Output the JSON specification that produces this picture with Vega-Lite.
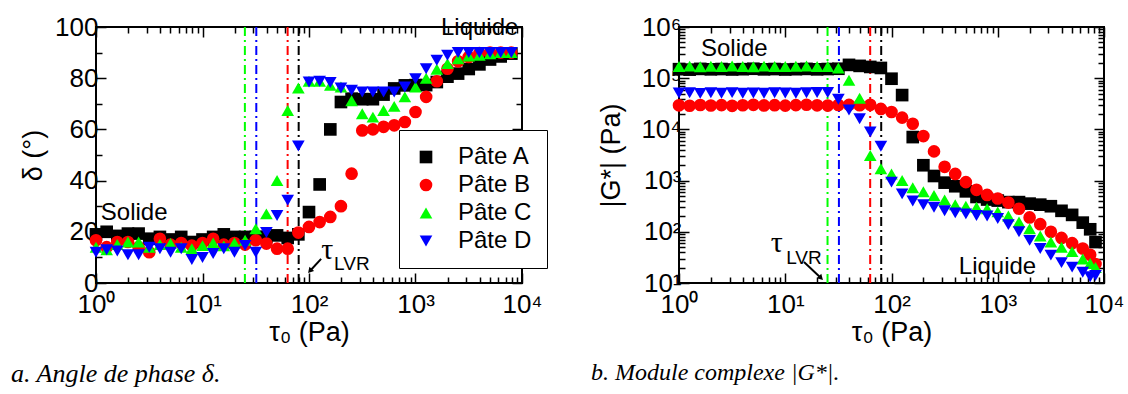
{
"$schema": "https://vega.github.io/schema/vega-lite/v6.json",
"background": "white",
"padding": {"left": 10, "top": 13, "right": 5, "bottom": 5},
"bounds": "flush",
"spacing": 157,
"resolve": {"scale": {"color": "independent", "shape": "independent"}},
"config": {
  "view": {"stroke": "black", "strokeWidth": 2},
  "font": "Liberation Sans",
  "axis": {"domain": false, "grid": false, "labelFont": "Liberation Sans", "labelFontSize": 26, "labelColor": "black", "titleFont": "Liberation Sans", "titleFontSize": 27, "titleFontWeight": "normal", "titleColor": "black", "tickColor": "black", "tickWidth": 1.5, "labelFlush": false, "labelOverlap": false, "labelPadding": 8},
  "axisBottom": {"labelPadding": 18, "titlePadding": -2}
},
"datasets": {
  "lvr": [{"t": 80, "p": "Pâte A"}, {"t": 63, "p": "Pâte B"}, {"t": 25, "p": "Pâte C"}, {"t": 32, "p": "Pâte D"}],
  "notesL": [{"label": "Solide", "t": 1.11, "d": 27.3}, {"label": "Liquide", "t": 1735, "d": 99.6}],
  "notesR": [{"label": "Solide", "t": 1.61, "g": 370000}, {"label": "Liquide", "t": 430, "g": 20.5}],
  "tauL": [{"label": "τ", "t": 130, "d": 9.4}],
  "lvrL": [{"label": "LVR", "t": 172, "d": 5.1}],
  "tauR": [{"label": "τ", "t": 7.3, "g": 40}],
  "lvrR": [{"label": "LVR", "t": 10.2, "g": 23.6}],
  "arrowL": [{"t": 102, "d": 4.7, "t2": 130, "d2": 9.4}],
  "arrowR": [{"t": 21.7, "g": 12.5, "t2": 15, "g2": 25.7}],
  "phase": [
{"t":1,"p":"Pâte A","d":19},{"t":1.259,"p":"Pâte A","d":20},{"t":1.585,"p":"Pâte A","d":18.4},{"t":1.995,"p":"Pâte A","d":19.3},{"t":2.512,"p":"Pâte A","d":19.3},{"t":3.162,"p":"Pâte A","d":17.3},{"t":3.981,"p":"Pâte A","d":18},{"t":5.012,"p":"Pâte A","d":17},{"t":6.31,"p":"Pâte A","d":18},{"t":7.943,"p":"Pâte A","d":16},{"t":10,"p":"Pâte A","d":17},{"t":12.59,"p":"Pâte A","d":18},{"t":15.85,"p":"Pâte A","d":19},{"t":19.95,"p":"Pâte A","d":18},{"t":25.12,"p":"Pâte A","d":18},{"t":31.62,"p":"Pâte A","d":18},{"t":39.81,"p":"Pâte A","d":18},{"t":50.12,"p":"Pâte A","d":18.6},{"t":63.1,"p":"Pâte A","d":17.6},{"t":79.43,"p":"Pâte A","d":19},{"t":100,"p":"Pâte A","d":27.7},{"t":125.9,"p":"Pâte A","d":38.5},{"t":158.5,"p":"Pâte A","d":60},{"t":199.5,"p":"Pâte A","d":70.7},{"t":251.2,"p":"Pâte A","d":72},{"t":316.2,"p":"Pâte A","d":71.8},{"t":398.1,"p":"Pâte A","d":71.8},{"t":501.2,"p":"Pâte A","d":73.6},{"t":631,"p":"Pâte A","d":76},{"t":794.3,"p":"Pâte A","d":77.2},{"t":1000,"p":"Pâte A","d":77.3},{"t":1259,"p":"Pâte A","d":77.3},{"t":1585,"p":"Pâte A","d":78.5},{"t":1995,"p":"Pâte A","d":80.6},{"t":2512,"p":"Pâte A","d":81.8},{"t":3162,"p":"Pâte A","d":83.6},{"t":3981,"p":"Pâte A","d":85.4},{"t":5012,"p":"Pâte A","d":87.3},{"t":6310,"p":"Pâte A","d":88.5},{"t":7943,"p":"Pâte A","d":89.6},
{"t":1,"p":"Pâte B","d":16.7},{"t":1.259,"p":"Pâte B","d":14},{"t":1.585,"p":"Pâte B","d":16},{"t":1.995,"p":"Pâte B","d":16},{"t":2.512,"p":"Pâte B","d":14},{"t":3.162,"p":"Pâte B","d":12},{"t":3.981,"p":"Pâte B","d":17.3},{"t":5.012,"p":"Pâte B","d":15},{"t":6.31,"p":"Pâte B","d":15.6},{"t":7.943,"p":"Pâte B","d":14.6},{"t":10,"p":"Pâte B","d":15.6},{"t":12.59,"p":"Pâte B","d":17.3},{"t":15.85,"p":"Pâte B","d":15},{"t":19.95,"p":"Pâte B","d":15.6},{"t":25.12,"p":"Pâte B","d":15},{"t":31.62,"p":"Pâte B","d":16.7},{"t":39.81,"p":"Pâte B","d":15.4},{"t":50.12,"p":"Pâte B","d":13.4},{"t":63.1,"p":"Pâte B","d":13.4},{"t":79.43,"p":"Pâte B","d":19.7},{"t":100,"p":"Pâte B","d":21.9},{"t":125.9,"p":"Pâte B","d":23.8},{"t":158.5,"p":"Pâte B","d":25.8},{"t":199.5,"p":"Pâte B","d":30},{"t":251.2,"p":"Pâte B","d":42.7},{"t":316.2,"p":"Pâte B","d":59.6},{"t":398.1,"p":"Pâte B","d":60},{"t":501.2,"p":"Pâte B","d":61},{"t":631,"p":"Pâte B","d":61.6},{"t":794.3,"p":"Pâte B","d":62.9},{"t":1000,"p":"Pâte B","d":66.8},{"t":1259,"p":"Pâte B","d":72.7},{"t":1585,"p":"Pâte B","d":78.8},{"t":1995,"p":"Pâte B","d":83.7},{"t":2512,"p":"Pâte B","d":86.6},{"t":3162,"p":"Pâte B","d":88.3},{"t":3981,"p":"Pâte B","d":89.8},{"t":5012,"p":"Pâte B","d":90},{"t":6310,"p":"Pâte B","d":90},{"t":7943,"p":"Pâte B","d":90},
{"t":1,"p":"Pâte C","d":14},{"t":1.259,"p":"Pâte C","d":13},{"t":1.585,"p":"Pâte C","d":15},{"t":1.995,"p":"Pâte C","d":16},{"t":2.512,"p":"Pâte C","d":16},{"t":3.162,"p":"Pâte C","d":14},{"t":3.981,"p":"Pâte C","d":15},{"t":5.012,"p":"Pâte C","d":15.4},{"t":6.31,"p":"Pâte C","d":14},{"t":7.943,"p":"Pâte C","d":13.4},{"t":10,"p":"Pâte C","d":14.6},{"t":12.59,"p":"Pâte C","d":15.6},{"t":15.85,"p":"Pâte C","d":14.5},{"t":19.95,"p":"Pâte C","d":15.6},{"t":25.12,"p":"Pâte C","d":16.7},{"t":31.62,"p":"Pâte C","d":21.2},{"t":39.81,"p":"Pâte C","d":27},{"t":50.12,"p":"Pâte C","d":40},{"t":63.1,"p":"Pâte C","d":67.4},{"t":79.43,"p":"Pâte C","d":76.2},{"t":100,"p":"Pâte C","d":78.8},{"t":125.9,"p":"Pâte C","d":78.8},{"t":158.5,"p":"Pâte C","d":77.2},{"t":199.5,"p":"Pâte C","d":76.6},{"t":251.2,"p":"Pâte C","d":71.2},{"t":316.2,"p":"Pâte C","d":66.1},{"t":398.1,"p":"Pâte C","d":64.8},{"t":501.2,"p":"Pâte C","d":67.4},{"t":631,"p":"Pâte C","d":69},{"t":794.3,"p":"Pâte C","d":72.7},{"t":1000,"p":"Pâte C","d":76.6},{"t":1259,"p":"Pâte C","d":80},{"t":1585,"p":"Pâte C","d":83.5},{"t":1995,"p":"Pâte C","d":85.7},{"t":2512,"p":"Pâte C","d":87.6},{"t":3162,"p":"Pâte C","d":88.7},{"t":3981,"p":"Pâte C","d":89},{"t":5012,"p":"Pâte C","d":89.5},{"t":6310,"p":"Pâte C","d":90},{"t":7943,"p":"Pâte C","d":90},
{"t":1,"p":"Pâte D","d":12},{"t":1.259,"p":"Pâte D","d":13},{"t":1.585,"p":"Pâte D","d":12.5},{"t":1.995,"p":"Pâte D","d":11},{"t":2.512,"p":"Pâte D","d":11},{"t":3.162,"p":"Pâte D","d":14},{"t":3.981,"p":"Pâte D","d":13.4},{"t":5.012,"p":"Pâte D","d":12},{"t":6.31,"p":"Pâte D","d":13.4},{"t":7.943,"p":"Pâte D","d":9.2},{"t":10,"p":"Pâte D","d":10},{"t":12.59,"p":"Pâte D","d":11.5},{"t":15.85,"p":"Pâte D","d":13.4},{"t":19.95,"p":"Pâte D","d":12},{"t":25.12,"p":"Pâte D","d":14.7},{"t":31.62,"p":"Pâte D","d":12},{"t":39.81,"p":"Pâte D","d":19.7},{"t":50.12,"p":"Pâte D","d":26.4},{"t":63.1,"p":"Pâte D","d":32.3},{"t":79.43,"p":"Pâte D","d":53.5},{"t":100,"p":"Pâte D","d":78.5},{"t":125.9,"p":"Pâte D","d":78.8},{"t":158.5,"p":"Pâte D","d":78.3},{"t":199.5,"p":"Pâte D","d":76.2},{"t":251.2,"p":"Pâte D","d":75.3},{"t":316.2,"p":"Pâte D","d":74.6},{"t":398.1,"p":"Pâte D","d":74.6},{"t":501.2,"p":"Pâte D","d":74.6},{"t":631,"p":"Pâte D","d":74.6},{"t":794.3,"p":"Pâte D","d":76.6},{"t":1000,"p":"Pâte D","d":79.8},{"t":1259,"p":"Pâte D","d":83.7},{"t":1585,"p":"Pâte D","d":87},{"t":1995,"p":"Pâte D","d":89},{"t":2512,"p":"Pâte D","d":90},{"t":3162,"p":"Pâte D","d":90},{"t":3981,"p":"Pâte D","d":90},{"t":5012,"p":"Pâte D","d":90},{"t":6310,"p":"Pâte D","d":90},{"t":7943,"p":"Pâte D","d":90}
  ],
  "modulus": [
{"t":1,"p":"Pâte A","g":150000},{"t":1.259,"p":"Pâte A","g":147000},{"t":1.585,"p":"Pâte A","g":152000},{"t":1.995,"p":"Pâte A","g":149000},{"t":2.512,"p":"Pâte A","g":151000},{"t":3.162,"p":"Pâte A","g":148000},{"t":3.981,"p":"Pâte A","g":150000},{"t":5.012,"p":"Pâte A","g":153000},{"t":6.31,"p":"Pâte A","g":149000},{"t":7.943,"p":"Pâte A","g":151000},{"t":10,"p":"Pâte A","g":148000},{"t":12.59,"p":"Pâte A","g":150000},{"t":15.85,"p":"Pâte A","g":152000},{"t":19.95,"p":"Pâte A","g":149000},{"t":25.12,"p":"Pâte A","g":151000},{"t":31.62,"p":"Pâte A","g":153000},{"t":39.81,"p":"Pâte A","g":182000},{"t":50.12,"p":"Pâte A","g":174000},{"t":63.1,"p":"Pâte A","g":166000},{"t":79.43,"p":"Pâte A","g":158500},{"t":100,"p":"Pâte A","g":97700},{"t":125.9,"p":"Pâte A","g":46800},{"t":158.5,"p":"Pâte A","g":7080},{"t":199.5,"p":"Pâte A","g":1995},{"t":251.2,"p":"Pâte A","g":1230},{"t":316.2,"p":"Pâte A","g":912},{"t":398.1,"p":"Pâte A","g":776},{"t":501.2,"p":"Pâte A","g":617},{"t":631,"p":"Pâte A","g":479},{"t":794.3,"p":"Pâte A","g":427},{"t":1000,"p":"Pâte A","g":407},{"t":1259,"p":"Pâte A","g":380},{"t":1585,"p":"Pâte A","g":380},{"t":1995,"p":"Pâte A","g":355},{"t":2512,"p":"Pâte A","g":339},{"t":3162,"p":"Pâte A","g":316},{"t":3981,"p":"Pâte A","g":257},{"t":5012,"p":"Pâte A","g":214},{"t":6310,"p":"Pâte A","g":151},{"t":7413,"p":"Pâte A","g":112},{"t":8318,"p":"Pâte A","g":63},
{"t":1,"p":"Pâte B","g":29500},{"t":1.259,"p":"Pâte B","g":29000},{"t":1.585,"p":"Pâte B","g":30000},{"t":1.995,"p":"Pâte B","g":29300},{"t":2.512,"p":"Pâte B","g":29800},{"t":3.162,"p":"Pâte B","g":28900},{"t":3.981,"p":"Pâte B","g":29600},{"t":5.012,"p":"Pâte B","g":30200},{"t":6.31,"p":"Pâte B","g":29400},{"t":7.943,"p":"Pâte B","g":29700},{"t":10,"p":"Pâte B","g":29100},{"t":12.59,"p":"Pâte B","g":29800},{"t":15.85,"p":"Pâte B","g":30300},{"t":19.95,"p":"Pâte B","g":29500},{"t":25.12,"p":"Pâte B","g":29200},{"t":31.62,"p":"Pâte B","g":29900},{"t":39.81,"p":"Pâte B","g":30100},{"t":50.12,"p":"Pâte B","g":29600},{"t":63.1,"p":"Pâte B","g":30200},{"t":79.43,"p":"Pâte B","g":25100},{"t":100,"p":"Pâte B","g":21900},{"t":125.9,"p":"Pâte B","g":17000},{"t":158.5,"p":"Pâte B","g":12900},{"t":199.5,"p":"Pâte B","g":7410},{"t":251.2,"p":"Pâte B","g":3720},{"t":316.2,"p":"Pâte B","g":1860},{"t":398.1,"p":"Pâte B","g":1350},{"t":501.2,"p":"Pâte B","g":933},{"t":631,"p":"Pâte B","g":661},{"t":794.3,"p":"Pâte B","g":525},{"t":1000,"p":"Pâte B","g":447},{"t":1259,"p":"Pâte B","g":372},{"t":1585,"p":"Pâte B","g":282},{"t":1995,"p":"Pâte B","g":191},{"t":2512,"p":"Pâte B","g":141},{"t":3162,"p":"Pâte B","g":100},{"t":3981,"p":"Pâte B","g":76},{"t":5012,"p":"Pâte B","g":60},{"t":6310,"p":"Pâte B","g":47},{"t":7413,"p":"Pâte B","g":35.5},{"t":8318,"p":"Pâte B","g":23.4},
{"t":1,"p":"Pâte C","g":170000},{"t":1.259,"p":"Pâte C","g":172000},{"t":1.585,"p":"Pâte C","g":168000},{"t":1.995,"p":"Pâte C","g":171000},{"t":2.512,"p":"Pâte C","g":169000},{"t":3.162,"p":"Pâte C","g":173000},{"t":3.981,"p":"Pâte C","g":170000},{"t":5.012,"p":"Pâte C","g":168000},{"t":6.31,"p":"Pâte C","g":172000},{"t":7.943,"p":"Pâte C","g":170000},{"t":10,"p":"Pâte C","g":169000},{"t":12.59,"p":"Pâte C","g":171000},{"t":15.85,"p":"Pâte C","g":173000},{"t":19.95,"p":"Pâte C","g":170000},{"t":25.12,"p":"Pâte C","g":169000},{"t":31.62,"p":"Pâte C","g":158000},{"t":39.81,"p":"Pâte C","g":91200},{"t":50.12,"p":"Pâte C","g":40700},{"t":63.1,"p":"Pâte C","g":3090},{"t":79.43,"p":"Pâte C","g":1700},{"t":100,"p":"Pâte C","g":1350},{"t":125.9,"p":"Pâte C","g":1000},{"t":158.5,"p":"Pâte C","g":724},{"t":199.5,"p":"Pâte C","g":603},{"t":251.2,"p":"Pâte C","g":513},{"t":316.2,"p":"Pâte C","g":417},{"t":398.1,"p":"Pâte C","g":339},{"t":501.2,"p":"Pâte C","g":316},{"t":631,"p":"Pâte C","g":302},{"t":794.3,"p":"Pâte C","g":282},{"t":1000,"p":"Pâte C","g":245},{"t":1259,"p":"Pâte C","g":204},{"t":1585,"p":"Pâte C","g":155},{"t":1995,"p":"Pâte C","g":115},{"t":2512,"p":"Pâte C","g":83},{"t":3162,"p":"Pâte C","g":63},{"t":3981,"p":"Pâte C","g":50},{"t":5012,"p":"Pâte C","g":41},{"t":6310,"p":"Pâte C","g":29.5},{"t":7413,"p":"Pâte C","g":24},{"t":8318,"p":"Pâte C","g":20},
{"t":1,"p":"Pâte D","g":51300},{"t":1.259,"p":"Pâte D","g":52000},{"t":1.585,"p":"Pâte D","g":50500},{"t":1.995,"p":"Pâte D","g":51800},{"t":2.512,"p":"Pâte D","g":50800},{"t":3.162,"p":"Pâte D","g":52300},{"t":3.981,"p":"Pâte D","g":51000},{"t":5.012,"p":"Pâte D","g":51600},{"t":6.31,"p":"Pâte D","g":50600},{"t":7.943,"p":"Pâte D","g":52100},{"t":10,"p":"Pâte D","g":51200},{"t":12.59,"p":"Pâte D","g":50700},{"t":15.85,"p":"Pâte D","g":51900},{"t":19.95,"p":"Pâte D","g":52400},{"t":25.12,"p":"Pâte D","g":52800},{"t":31.62,"p":"Pâte D","g":38900},{"t":39.81,"p":"Pâte D","g":24000},{"t":50.12,"p":"Pâte D","g":16200},{"t":63.1,"p":"Pâte D","g":8910},{"t":79.43,"p":"Pâte D","g":4680},{"t":100,"p":"Pâte D","g":933},{"t":125.9,"p":"Pâte D","g":550},{"t":158.5,"p":"Pâte D","g":398},{"t":199.5,"p":"Pâte D","g":339},{"t":251.2,"p":"Pâte D","g":302},{"t":316.2,"p":"Pâte D","g":257},{"t":398.1,"p":"Pâte D","g":234},{"t":501.2,"p":"Pâte D","g":224},{"t":631,"p":"Pâte D","g":209},{"t":794.3,"p":"Pâte D","g":204},{"t":1000,"p":"Pâte D","g":182},{"t":1259,"p":"Pâte D","g":138},{"t":1585,"p":"Pâte D","g":100},{"t":1995,"p":"Pâte D","g":68},{"t":2512,"p":"Pâte D","g":47},{"t":3162,"p":"Pâte D","g":35},{"t":3981,"p":"Pâte D","g":25},{"t":5012,"p":"Pâte D","g":20.4},{"t":6310,"p":"Pâte D","g":16.2},{"t":7413,"p":"Pâte D","g":13.2},{"t":8318,"p":"Pâte D","g":14}
  ]
},
"hconcat": [
{
  "width": 426, "height": 256,
  "title": {"text": "a. Angle de phase δ.", "orient": "bottom", "anchor": "start", "frame": "group", "dx": -85, "offset": 16, "font": "Liberation Serif", "fontStyle": "italic", "fontSize": 26, "fontWeight": "normal", "color": "black"},
  "resolve": {"axis": {"x": "independent", "y": "independent"}},
  "layer": [
    {"data": {"name": "lvr"}, "transform": [{"filter": "datum.p == 'Pâte A'"}], "mark": {"type": "rule", "strokeWidth": 2, "strokeDash": [9, 4, 2, 4], "color": "#000000"},
     "encoding": {"x": {"field": "t", "type": "quantitative", "scale": {"type": "log", "domain": [1, 10000], "nice": false}, "axis": null}}},
    {"data": {"name": "lvr"}, "transform": [{"filter": "datum.p == 'Pâte B'"}], "mark": {"type": "rule", "strokeWidth": 2, "strokeDash": [9, 4, 2, 4], "color": "#ff0000"},
     "encoding": {"x": {"field": "t", "type": "quantitative", "axis": null}}},
    {"data": {"name": "lvr"}, "transform": [{"filter": "datum.p == 'Pâte C'"}], "mark": {"type": "rule", "strokeWidth": 2, "strokeDash": [9, 4, 2, 4], "color": "#00ff00"},
     "encoding": {"x": {"field": "t", "type": "quantitative", "axis": null}}},
    {"data": {"name": "lvr"}, "transform": [{"filter": "datum.p == 'Pâte D'"}], "mark": {"type": "rule", "strokeWidth": 2, "strokeDash": [9, 4, 2, 4], "color": "#0000ff"},
     "encoding": {"x": {"field": "t", "type": "quantitative", "axis": null}}},
    {"data": {"name": "phase"}, "mark": {"type": "point", "filled": true, "size": 160, "opacity": 1},
     "encoding": {
       "x": {"field": "t", "type": "quantitative", "scale": {"type": "log", "domain": [1, 10000], "nice": false},
             "axis": {"orient": "bottom", "title": "τ₀ (Pa)", "values": [1,2,3,4,5,6,7,8,9,10,20,30,40,50,60,70,80,90,100,200,300,400,500,600,700,800,900,1000,2000,3000,4000,5000,6000,7000,8000,9000,10000],
                      "labelExpr": "datum.value==1?'10⁰':datum.value==10?'10¹':datum.value==100?'10²':datum.value==1000?'10³':datum.value==10000?'10⁴':''",
                      "tickSize": {"condition": {"test": "indexof([1,10,100,1000,10000], datum.value) >= 0", "value": -10}, "value": -6}}},
       "y": {"field": "d", "type": "quantitative", "scale": {"domain": [0, 100], "nice": false, "zero": false},
             "axis": {"orient": "left", "title": "δ (°)", "titlePadding": 7, "values": [0,10,20,30,40,50,60,70,80,90,100],
                      "labelExpr": "datum.value % 20 == 0 ? datum.label : ''",
                      "tickSize": {"condition": {"test": "datum.value % 20 == 0", "value": -10}, "value": -6}}},
       "color": {"field": "p", "type": "nominal", "scale": {"domain": ["Pâte A", "Pâte B", "Pâte C", "Pâte D"], "range": ["#000000", "#ff0000", "#00ff00", "#0000ff"]},
                 "legend": {"title": null, "orient": "none", "legendX": 303, "legendY": 103, "labelFont": "Liberation Sans", "labelFontSize": 24, "labelColor": "black", "symbolSize": 160, "strokeColor": "black", "fillColor": "white", "padding": 15, "rowPadding": 4, "labelOffset": 20}},
       "shape": {"field": "p", "type": "nominal", "scale": {"domain": ["Pâte A", "Pâte B", "Pâte C", "Pâte D"], "range": ["square", "circle", "triangle-up", "triangle-down"]},
                 "legend": {"title": null, "orient": "none", "legendX": 303, "legendY": 103, "labelFont": "Liberation Sans", "labelFontSize": 24, "labelColor": "black", "symbolSize": 160, "strokeColor": "black", "fillColor": "white", "padding": 15, "rowPadding": 4, "labelOffset": 20}}
     }},
    {"data": {"name": "notesL"}, "mark": {"type": "text", "align": "left", "baseline": "middle", "fontSize": 24, "font": "Liberation Sans", "color": "black"},
     "encoding": {
       "x": {"field": "t", "type": "quantitative", "scale": {"type": "log", "domain": [1, 10000], "nice": false},
             "axis": {"orient": "top", "title": null, "labels": false, "values": [1,2,3,4,5,6,7,8,9,10,20,30,40,50,60,70,80,90,100,200,300,400,500,600,700,800,900,1000,2000,3000,4000,5000,6000,7000,8000,9000,10000],
                      "tickSize": {"condition": {"test": "indexof([1,10,100,1000,10000], datum.value) >= 0", "value": -10}, "value": -6}}},
       "y": {"field": "d", "type": "quantitative", "scale": {"domain": [0, 100], "nice": false, "zero": false},
             "axis": {"orient": "right", "title": null, "labels": false, "values": [0,10,20,30,40,50,60,70,80,90,100],
                      "tickSize": {"condition": {"test": "datum.value % 20 == 0", "value": -10}, "value": -6}}},
       "text": {"field": "label"}
     }},
    {"data": {"name": "tauL"}, "mark": {"type": "text", "align": "left", "baseline": "alphabetic", "fontSize": 30, "font": "Liberation Serif", "color": "black"},
     "encoding": {"x": {"field": "t", "type": "quantitative", "axis": null}, "y": {"field": "d", "type": "quantitative", "axis": null}, "text": {"field": "label"}}},
    {"data": {"name": "lvrL"}, "mark": {"type": "text", "align": "left", "baseline": "alphabetic", "fontSize": 19, "font": "Liberation Sans", "color": "black"},
     "encoding": {"x": {"field": "t", "type": "quantitative", "axis": null}, "y": {"field": "d", "type": "quantitative", "axis": null}, "text": {"field": "label"}}},
    {"data": {"name": "arrowL"}, "mark": {"type": "rule", "strokeWidth": 2, "color": "black"},
     "encoding": {"x": {"field": "t", "type": "quantitative", "axis": null}, "y": {"field": "d", "type": "quantitative", "axis": null}, "x2": {"field": "t2"}, "y2": {"field": "d2"}}},
    {"data": {"name": "arrowL"}, "mark": {"type": "point", "shape": "triangle-up", "filled": true, "size": 40, "angle": 222, "color": "black", "opacity": 1},
     "encoding": {"x": {"field": "t", "type": "quantitative", "axis": null}, "y": {"field": "d", "type": "quantitative", "axis": null}}}
  ]
},
{
  "width": 425, "height": 256,
  "title": {"text": "b. Module complexe |G*|.", "orient": "bottom", "anchor": "start", "frame": "group", "dx": -88, "offset": 16, "font": "Liberation Serif", "fontStyle": "italic", "fontSize": 24, "fontWeight": "normal", "color": "black"},
  "resolve": {"axis": {"x": "independent", "y": "independent"}},
  "layer": [
    {"data": {"name": "lvr"}, "transform": [{"filter": "datum.p == 'Pâte A'"}], "mark": {"type": "rule", "strokeWidth": 2, "strokeDash": [9, 4, 2, 4], "color": "#000000"},
     "encoding": {"x": {"field": "t", "type": "quantitative", "scale": {"type": "log", "domain": [1, 10000], "nice": false}, "axis": null}}},
    {"data": {"name": "lvr"}, "transform": [{"filter": "datum.p == 'Pâte B'"}], "mark": {"type": "rule", "strokeWidth": 2, "strokeDash": [9, 4, 2, 4], "color": "#ff0000"},
     "encoding": {"x": {"field": "t", "type": "quantitative", "axis": null}}},
    {"data": {"name": "lvr"}, "transform": [{"filter": "datum.p == 'Pâte C'"}], "mark": {"type": "rule", "strokeWidth": 2, "strokeDash": [9, 4, 2, 4], "color": "#00ff00"},
     "encoding": {"x": {"field": "t", "type": "quantitative", "axis": null}}},
    {"data": {"name": "lvr"}, "transform": [{"filter": "datum.p == 'Pâte D'"}], "mark": {"type": "rule", "strokeWidth": 2, "strokeDash": [9, 4, 2, 4], "color": "#0000ff"},
     "encoding": {"x": {"field": "t", "type": "quantitative", "axis": null}}},
    {"data": {"name": "modulus"}, "mark": {"type": "point", "filled": true, "size": 160, "opacity": 1},
     "encoding": {
       "x": {"field": "t", "type": "quantitative", "scale": {"type": "log", "domain": [1, 10000], "nice": false},
             "axis": {"orient": "bottom", "title": "τ₀ (Pa)", "values": [1,2,3,4,5,6,7,8,9,10,20,30,40,50,60,70,80,90,100,200,300,400,500,600,700,800,900,1000,2000,3000,4000,5000,6000,7000,8000,9000,10000],
                      "labelExpr": "datum.value==1?'10⁰':datum.value==10?'10¹':datum.value==100?'10²':datum.value==1000?'10³':datum.value==10000?'10⁴':''",
                      "tickSize": {"condition": {"test": "indexof([1,10,100,1000,10000], datum.value) >= 0", "value": -10}, "value": -6}}},
       "y": {"field": "g", "type": "quantitative", "scale": {"type": "log", "domain": [10, 1000000], "nice": false},
             "axis": {"orient": "left", "title": "|G*| (Pa)", "titlePadding": 15, "values": [10,20,30,40,50,60,70,80,90,100,200,300,400,500,600,700,800,900,1000,2000,3000,4000,5000,6000,7000,8000,9000,10000,20000,30000,40000,50000,60000,70000,80000,90000,100000,200000,300000,400000,500000,600000,700000,800000,900000,1000000],
                      "labelExpr": "datum.value==10?'10¹':datum.value==100?'10²':datum.value==1000?'10³':datum.value==10000?'10⁴':datum.value==100000?'10⁵':datum.value==1000000?'10⁶':''",
                      "tickSize": {"condition": {"test": "indexof([10,100,1000,10000,100000,1000000], datum.value) >= 0", "value": -10}, "value": -6}}},
       "color": {"field": "p", "type": "nominal", "scale": {"domain": ["Pâte A", "Pâte B", "Pâte C", "Pâte D"], "range": ["#000000", "#ff0000", "#00ff00", "#0000ff"]}, "legend": null},
       "shape": {"field": "p", "type": "nominal", "scale": {"domain": ["Pâte A", "Pâte B", "Pâte C", "Pâte D"], "range": ["square", "circle", "triangle-up", "triangle-down"]}, "legend": null}
     }},
    {"data": {"name": "notesR"}, "mark": {"type": "text", "align": "left", "baseline": "middle", "fontSize": 24, "font": "Liberation Sans", "color": "black"},
     "encoding": {
       "x": {"field": "t", "type": "quantitative", "scale": {"type": "log", "domain": [1, 10000], "nice": false},
             "axis": {"orient": "top", "title": null, "labels": false, "values": [1,2,3,4,5,6,7,8,9,10,20,30,40,50,60,70,80,90,100,200,300,400,500,600,700,800,900,1000,2000,3000,4000,5000,6000,7000,8000,9000,10000],
                      "tickSize": {"condition": {"test": "indexof([1,10,100,1000,10000], datum.value) >= 0", "value": -10}, "value": -6}}},
       "y": {"field": "g", "type": "quantitative", "scale": {"type": "log", "domain": [10, 1000000], "nice": false},
             "axis": {"orient": "right", "title": null, "labels": false, "values": [10,20,30,40,50,60,70,80,90,100,200,300,400,500,600,700,800,900,1000,2000,3000,4000,5000,6000,7000,8000,9000,10000,20000,30000,40000,50000,60000,70000,80000,90000,100000,200000,300000,400000,500000,600000,700000,800000,900000,1000000],
                      "tickSize": {"condition": {"test": "indexof([10,100,1000,10000,100000,1000000], datum.value) >= 0", "value": -10}, "value": -6}}},
       "text": {"field": "label"}
     }},
    {"data": {"name": "tauR"}, "mark": {"type": "text", "align": "left", "baseline": "alphabetic", "fontSize": 30, "font": "Liberation Serif", "color": "black"},
     "encoding": {"x": {"field": "t", "type": "quantitative", "axis": null}, "y": {"field": "g", "type": "quantitative", "axis": null}, "text": {"field": "label"}}},
    {"data": {"name": "lvrR"}, "mark": {"type": "text", "align": "left", "baseline": "alphabetic", "fontSize": 19, "font": "Liberation Sans", "color": "black"},
     "encoding": {"x": {"field": "t", "type": "quantitative", "axis": null}, "y": {"field": "g", "type": "quantitative", "axis": null}, "text": {"field": "label"}}},
    {"data": {"name": "arrowR"}, "mark": {"type": "rule", "strokeWidth": 2, "color": "black"},
     "encoding": {"x": {"field": "t", "type": "quantitative", "axis": null}, "y": {"field": "g", "type": "quantitative", "axis": null}, "x2": {"field": "t2"}, "y2": {"field": "g2"}}},
    {"data": {"name": "arrowR"}, "mark": {"type": "point", "shape": "triangle-up", "filled": true, "size": 40, "angle": 135, "color": "black", "opacity": 1},
     "encoding": {"x": {"field": "t", "type": "quantitative", "axis": null}, "y": {"field": "g", "type": "quantitative", "axis": null}}}
  ]
}
]
}
